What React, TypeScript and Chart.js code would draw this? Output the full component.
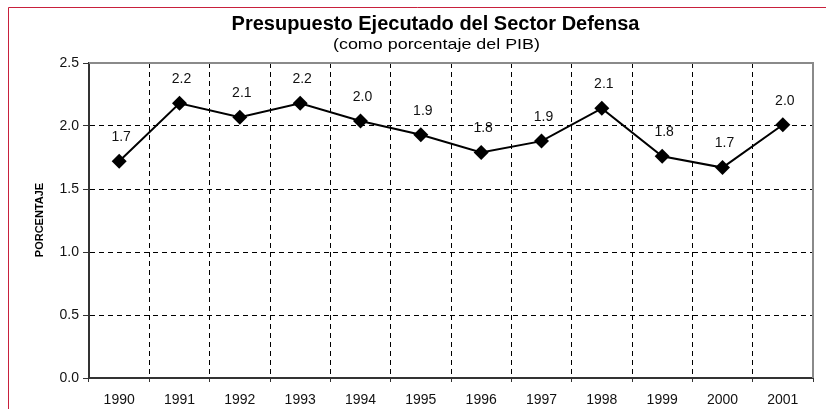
import React, { useEffect, useRef } from "react";
import { Chart, registerables } from "chart.js";

Chart.register(...registerables);

const years = ["1990", "1991", "1992", "1993", "1994", "1995", "1996", "1997", "1998", "1999", "2000", "2001"];
const gastoPib = [1.72, 2.18, 2.07, 2.18, 2.04, 1.93, 1.79, 1.88, 2.14, 1.76, 1.67, 2.01];
const titleText = "Presupuesto Ejecutado del Sector Defensa";
const subtitleText = "(como porcentaje del PIB)";
const yAxisTitle = "PORCENTAJE";

const FONT = "'Liberation Sans', Arial, sans-serif";

const overlayPlugin = {
  id: "overlay",
  beforeDraw(chart: any) {
    const ctx = chart.ctx;
    ctx.save();
    ctx.fillStyle = "#ffffff";
    ctx.fillRect(0, 0, chart.width, chart.height);
    // red frame
    ctx.strokeStyle = "#c8203c";
    ctx.lineWidth = 1;
    ctx.beginPath();
    ctx.moveTo(8.5, chart.height);
    ctx.lineTo(8.5, 7.5);
    ctx.lineTo(chart.width, 7.5);
    ctx.stroke();
    // titles
    ctx.fillStyle = "#000";
    ctx.textAlign = "center";
    ctx.textBaseline = "alphabetic";
    ctx.font = `bold 20px ${FONT}`;
    ctx.fillText(titleText, 435.5, 30);
    ctx.font = `15px ${FONT}`;
    const w = ctx.measureText(subtitleText).width;
    const sx = 207 / w;
    ctx.save();
    ctx.translate(436.5, 48.5);
    ctx.scale(sx, 1);
    ctx.fillText(subtitleText, 0, 0);
    ctx.restore();
    // y axis title
    ctx.translate(39.5, 220);
    ctx.rotate(-Math.PI / 2);
    ctx.font = `bold 11px ${FONT}`;
    ctx.textBaseline = "middle";
    ctx.fillText(yAxisTitle, 0, 0);
    ctx.restore();
  },
  beforeDatasetsDraw(chart: any) {
    const { ctx, chartArea } = chart;
    ctx.save();
    ctx.strokeStyle = "#8a8a8a";
    ctx.lineWidth = 2;
    ctx.beginPath();
    ctx.moveTo(chartArea.left, chartArea.top);
    ctx.lineTo(chartArea.right, chartArea.top);
    ctx.lineTo(chartArea.right, chartArea.bottom);
    ctx.stroke();
    ctx.restore();
  },
  afterDatasetsDraw(chart: any) {
    const ctx = chart.ctx;
    const meta = chart.getDatasetMeta(0);
    ctx.save();
    ctx.fillStyle = "#111";
    ctx.font = `14px ${FONT}`;
    ctx.textAlign = "center";
    ctx.textBaseline = "middle";
    meta.data.forEach((pt: any, i: number) => {
      ctx.fillText(gastoPib[i].toFixed(1), pt.x + 2, pt.y - 24);
    });
    ctx.restore();
  },
};

export default function App() {
  const ref = useRef<HTMLCanvasElement>(null);
  useEffect(() => {
    if (!ref.current) return;
    const chart = new Chart(ref.current, {
      type: "line",
      data: {
        labels: years,
        datasets: [
          {
            data: gastoPib,
            borderColor: "#000",
            borderWidth: 2,
            backgroundColor: "#000",
            pointStyle: "rectRot",
            pointRadius: 7.5,
            pointBackgroundColor: "#000",
            pointBorderColor: "#000",
            pointBorderWidth: 0,
            tension: 0,
          },
        ],
      },
      options: {
        responsive: false,
        animation: false,
        devicePixelRatio: 1,
        layout: { padding: { top: 63, right: 13, left: 0, bottom: 0 } },
        plugins: { legend: { display: false }, tooltip: { enabled: false }, title: { display: false } },
        scales: {
          x: {
            offset: true,
            grid: {
              offset: true,
              color: (c: any) => (c.type !== "tick" || c.index === 0 ? "rgba(0,0,0,0)" : "#000"),
              lineWidth: 1,
              tickColor: "#333",
              tickLength: 4,
            },
            border: { display: true, color: "#333", width: 2, dash: [5, 4] },
            ticks: { color: "#111", font: { family: FONT, size: 14 }, padding: 10, maxRotation: 0, autoSkip: false },
            afterFit: (s: any) => {
              s.height = 31;
            },
          },
          y: {
            min: 0,
            max: 2.5,
            grid: {
              color: (c: any) =>
                c.type !== "tick" || c.tick.value === 2.5 || c.tick.value === 0 ? "rgba(0,0,0,0)" : "#000",
              lineWidth: 1,
              tickColor: "#333",
              tickLength: 6,
            },
            border: { display: true, color: "#333", width: 2, dash: [5, 4] },
            ticks: {
              stepSize: 0.5,
              color: "#111",
              font: { family: FONT, size: 14 },
              padding: 4,
              callback: (v: any) => Number(v).toFixed(1),
            },
            afterFit: (s: any) => {
              s.width = 89;
            },
          },
        },
      },
      plugins: [overlayPlugin],
    });
    return () => chart.destroy();
  }, []);
  return (
    <div style={{ position: "absolute", left: 0, top: 0, width: 826, height: 409 }}>
      <canvas ref={ref} width={826} height={409} />
    </div>
  );
}
